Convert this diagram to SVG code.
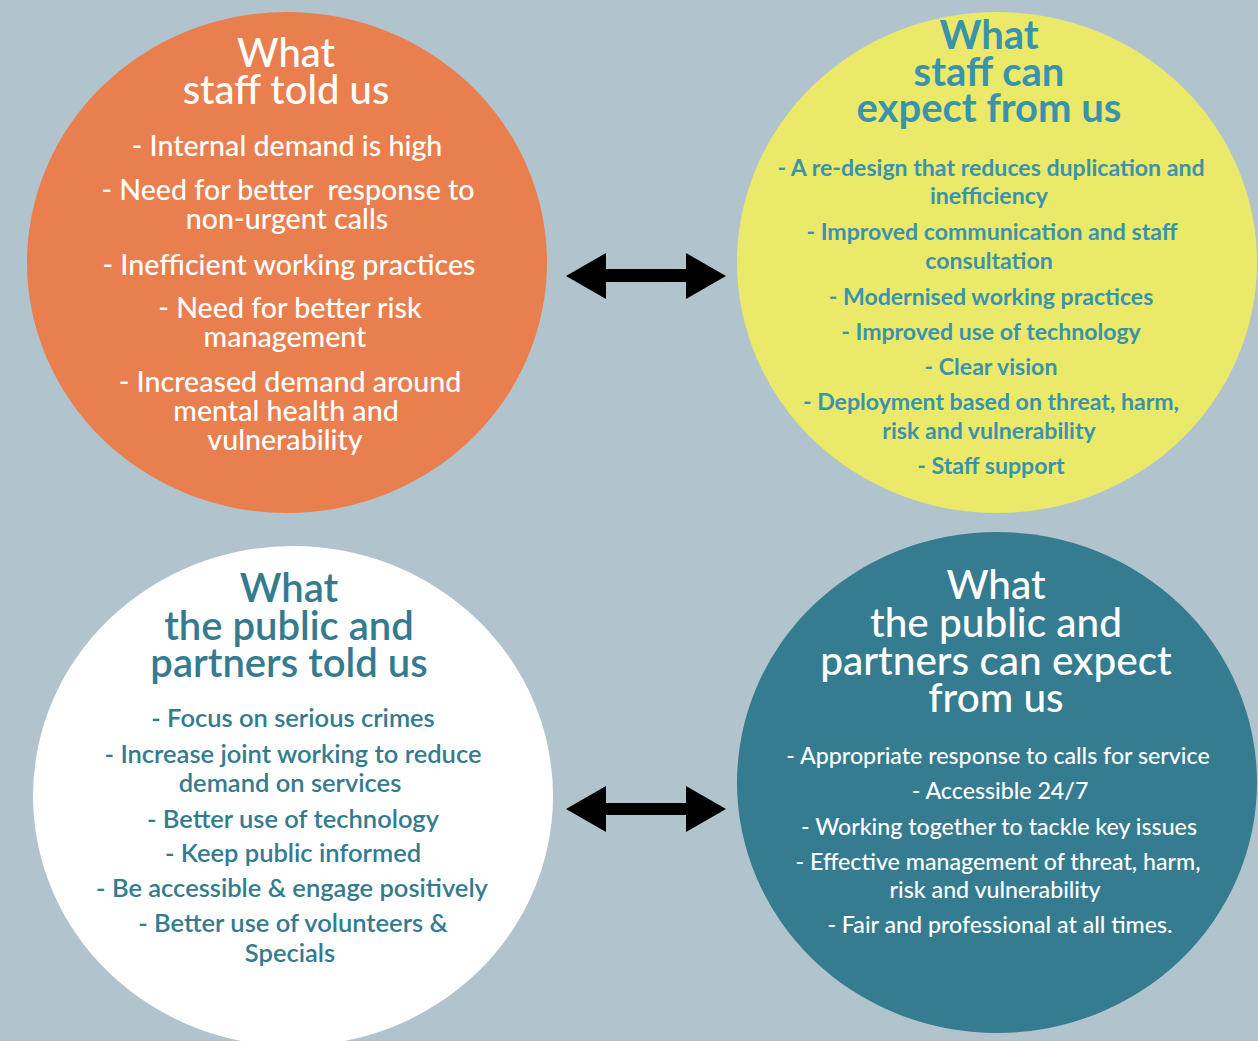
<svg xmlns="http://www.w3.org/2000/svg" width="1258" height="1041" viewBox="0 0 1258 1041">
<style>
text{font-family:Lato,"Open Sans","Liberation Sans",sans-serif;text-anchor:middle}
.ot{fill:#ffffff;font-size:40px;font-weight:500}
.ob{fill:#ffffff;font-size:28.6px;font-weight:500}
.yt{fill:#3b93ab;font-size:40px;font-weight:700}
.yb{fill:#3b93ab;font-size:23.1px;font-weight:700}
.wt{fill:#347b90;font-size:40px;font-weight:600}
.wb{fill:#347b90;font-size:25.5px;font-weight:600}
.tt{fill:#ffffff;font-size:40.5px;font-weight:500}
.tb{fill:#ffffff;font-size:23.2px;font-weight:500}
.arrow{fill:#000000}
</style>
<rect width="1258" height="1041" fill="#b1c4cd"/>
<g id="staff-told">
<ellipse cx="287" cy="262.5" rx="260" ry="250.5" fill="#e97f4f"/>
<text class="ot" x="286" y="67">What<tspan x="286" dy="37">staff told us</tspan></text>
<text class="ob" x="287" y="156">- Internal demand is high</text>
<text class="ob" x="288" y="200" xml:space="preserve">- Need for better  response to<tspan x="287" dy="29">non-urgent calls</tspan></text>
<text class="ob" x="289" y="275">- Inefficient working practices</text>
<text class="ob" x="290" y="318">- Need for better risk<tspan x="285" dy="29">management</tspan></text>
<text class="ob" x="290" y="392">- Increased demand around<tspan x="286" dy="29">mental health and</tspan><tspan x="285" dy="29">vulnerability</tspan></text>
</g>
<g id="staff-expect">
<ellipse cx="997" cy="262.5" rx="260" ry="250.5" fill="#ebe96a"/>
<text class="yt" x="989" y="49">What<tspan x="989" dy="37">staff can</tspan><tspan x="989" dy="36">expect from us</tspan></text>
<text class="yb" x="991" y="176">- A re-design that reduces duplication and<tspan x="989" dy="28">inefficiency</tspan></text>
<text class="yb" x="992" y="240">- Improved communication and staff<tspan x="989" dy="29">consultation</tspan></text>
<text class="yb" x="991" y="305">- Modernised working practices</text>
<text class="yb" x="991" y="340">- Improved use of technology</text>
<text class="yb" x="991" y="375">- Clear vision</text>
<text class="yb" x="991" y="410">- Deployment based on threat, harm,<tspan x="989" dy="29">risk and vulnerability</tspan></text>
<text class="yb" x="991" y="474">- Staff support</text>
</g>
<g id="public-told">
<ellipse cx="293" cy="796" rx="260" ry="250" fill="#ffffff"/>
<text class="wt" x="289" y="602">What<tspan x="289" dy="38">the public and</tspan><tspan x="289" dy="37">partners told us</tspan></text>
<text class="wb" x="293" y="727">- Focus on serious crimes</text>
<text class="wb" x="293" y="763">- Increase joint working to reduce<tspan x="290" dy="29">demand on services</tspan></text>
<text class="wb" x="293" y="828">- Better use of technology</text>
<text class="wb" x="293" y="862">- Keep public informed</text>
<text class="wb" x="292" y="897">- Be accessible &amp; engage positively</text>
<text class="wb" x="293" y="932">- Better use of volunteers &amp;<tspan x="290" dy="30">Specials</tspan></text>
</g>
<g id="public-expect">
<ellipse cx="997" cy="782.5" rx="260" ry="250.5" fill="#357c91"/>
<text class="tt" x="996" y="599">What<tspan x="996" dy="38">the public and</tspan><tspan x="996" dy="38">partners can expect</tspan><tspan x="996" dy="37">from us</tspan></text>
<text class="tb" x="998" y="764">- Appropriate response to calls for service</text>
<text class="tb" x="1000" y="799">- Accessible 24/7</text>
<text class="tb" x="999" y="835">- Working together to tackle key issues</text>
<text class="tb" x="998" y="870">- Effective management of threat, harm,<tspan x="995" dy="28">risk and vulnerability</tspan></text>
<text class="tb" x="1000" y="933">- Fair and professional at all times.</text>
</g>
<g id="connectors">
<path class="arrow" d="M566,276 L606,253 L606,269 L686,269 L686,253 L726,276 L686,299 L686,282 L606,282 L606,299 Z"/>
<path class="arrow" d="M566,809 L606,786 L606,803 L686,803 L686,786 L726,809 L686,832 L686,815 L606,815 L606,832 Z"/>
</g>
</svg>
